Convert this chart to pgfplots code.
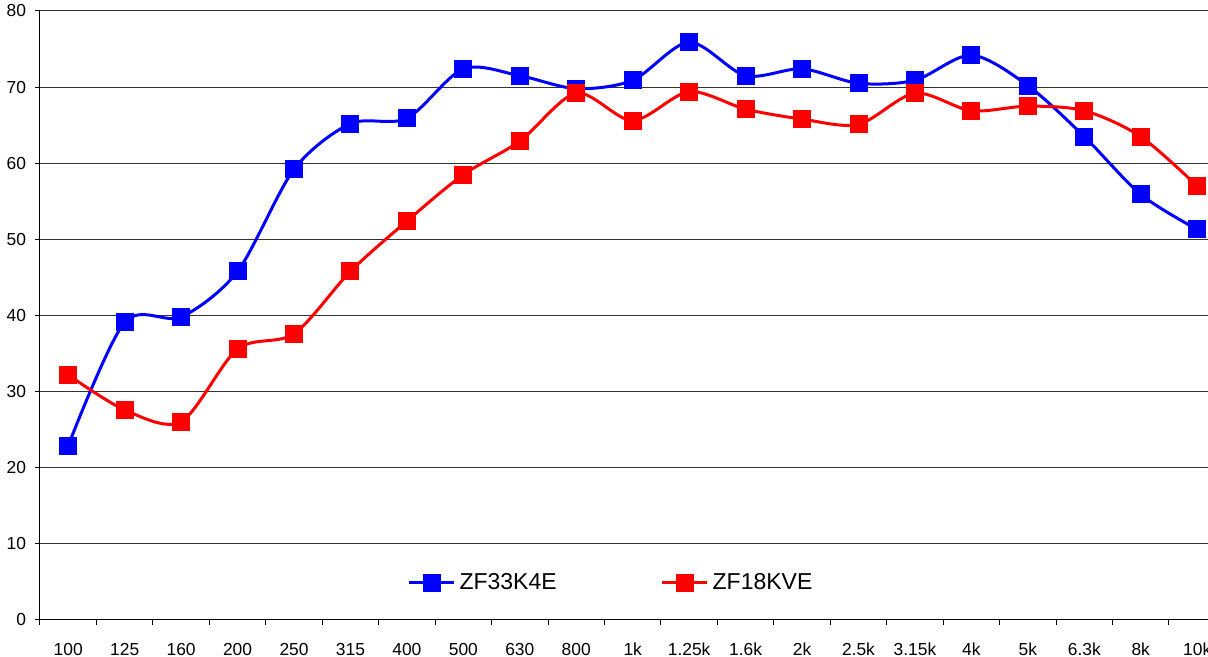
\documentclass[border=0pt]{standalone}
\usepackage{fontspec}
\setmainfont{Liberation Sans}
\usepackage{pgfplots}
\pgfplotsset{compat=1.18}
\definecolor{pblue}{RGB}{0,0,255}
\definecolor{pred}{RGB}{255,0,0}
\begin{document}
\begin{tikzpicture}
\begin{axis}[
  scale only axis,
  width=592.7pt, height=304.5pt,
  xmin=-0.5, xmax=20.5, ymin=0, ymax=80,
  axis x line*=bottom, axis y line*=left,
  axis line style={-, black, line width=0.5pt},
  xtick={0,...,20},
  xticklabels={100,125,160,200,250,315,400,500,630,800,1k,1.25k,1.6k,2k,2.5k,3.15k,4k,5k,6.3k,8k,10k},
  minor xtick={-0.5,0.5,...,20.5},
  ytick={0,10,...,80},
  tick align=outside,
  major tick length=2.5pt, minor tick length=2.5pt,
  tick style={black, line width=0.5pt},
  major x tick style={draw=none},
  ymajorgrids,
  grid style={black!80, line width=0.5pt},
  ticklabel style={font=\fontsize{8.7}{10}\selectfont},
  xticklabel style={yshift=-5.5pt},
  yticklabel style={xshift=-1pt},
  /pgf/number format/assume math mode=true,
  legend style={at={(0.4825,0.0608)}, anchor=center, draw=none, fill=none,
    font=\fontsize{11.5}{13}\selectfont,
    /tikz/every even column/.append style={column sep=50pt}},
  legend columns=2,
  legend image code/.code={\draw[mark repeat=2,mark phase=2] plot coordinates {(0pt,0pt)(11.25pt,0pt)(22.5pt,0pt)};},
]
\addplot[pblue, line width=1.5pt, smooth, mark=square*, mark size=3.75pt, mark options={solid}] coordinates {
(0,22.9)(1,39.1)(2,39.8)(3,45.8)(4,59.2)(5,65.2)(6,65.9)(7,72.4)(8,71.5)(9,69.8)(10,70.9)
(11,75.9)(12,71.5)(13,72.4)(14,70.5)(15,70.9)(16,74.2)(17,70.2)(18,63.5)(19,55.9)(20,51.3)};
\addlegendentry{ZF33K4E}
\addplot[pred, line width=1.5pt, smooth, mark=square*, mark size=3.75pt, mark options={solid}] coordinates {
(0,32.2)(1,27.6)(2,26.05)(3,35.6)(4,37.6)(5,45.8)(6,52.4)(7,58.5)(8,62.9)(9,69.2)(10,65.6)
(11,69.4)(12,67.1)(13,65.8)(14,65.1)(15,69.2)(16,66.9)(17,67.5)(18,66.9)(19,63.5)(20,57.0)};
\addlegendentry{ZF18KVE}
\end{axis}
\pgfresetboundingbox
\path ([shift={(-20pt,-18.5pt)}]current axis.south west) rectangle ([shift={(584pt,5.5pt)}]current axis.north west);
\end{tikzpicture}
\end{document}
